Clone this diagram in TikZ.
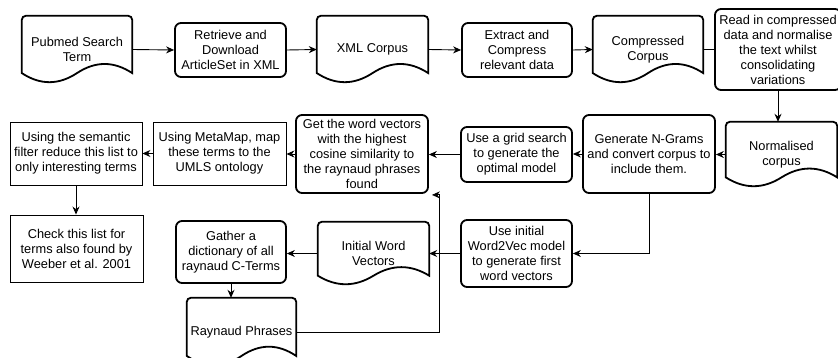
\documentclass[tikz,border=0pt]{standalone}
\usepackage{fontspec}
\setmainfont{Liberation Sans}
\usetikzlibrary{calc, arrows.meta}

\begin{document}
\begin{tikzpicture}[x=1pt, y=-1pt,
		every node/.style={font=\fontsize{12.8}{15}\selectfont, align=center, inner sep=0pt},
		process/.style 2 args={draw, line width=1.8pt, rounded corners=6pt, minimum width=#1, minimum height=#2},
		plainbox/.style 2 args={draw, line width=0.9pt, minimum width=#1, minimum height=#2},
		docnode/.style 2 args={minimum width=#1, minimum height=#2},
		docline/.style={line width=1.8pt},
		flow/.style={-{Stealth[length=8pt, width=7pt]}, line width=0.9pt}]

			\useasboundingbox (0,0) rectangle (838,358);
			\fill [white] (0,0) rectangle (838,358);

			% outline of a document: flat top with rounded corners, wavy bottom
			\newcommand{\drawDocument}[1]
			{
				\draw [docline] let \p1 = (#1.north west), \p2 = (#1.south east),
					\n1 = {\x2-\x1}, \n2 = {0.3*(\y1-\y2)} in
					(\x1, \y2+0.5*\n2) -- (\x1, \y1-4pt)
					arc [start angle=180, end angle=90, radius=4pt] -- (\x2-4pt, \y1)
					arc [start angle=90, end angle=0, radius=4pt] -- (\x2, \y2+0.5*\n2)
					.. controls ({\x2-\n1/6}, \y2+1.1*\n2) and ({\x1+2*\n1/3}, \y2+1.1*\n2) .. ({\x1+\n1/2}, \y2+0.5*\n2)
					.. controls ({\x1+\n1/3}, \y2-0.1*\n2) and ({\x1+\n1/6}, \y2-0.1*\n2) .. cycle
			}

			% top row
			\node [docnode={110}{67}] (pubmed) at (77,49.5) {Pubmed Search\\Term};
			\node [process={111}{54}] (retrieve) at (230.5,50) {Retrieve and\\Download\\ArticleSet in XML};
			\node [docnode={111}{67}] (xmlcorpus) at (372.5,49.5) {XML Corpus};
			\node [process={110}{54}] (extract) at (517,50) {Extract and\\Compress\\relevant data};
			\node [docnode={110}{67}] (compressed) at (648,49.5) {Compressed\\Corpus};
			\node [process={126}{81}] (readin) at (778,49.5) {Read in compressed\\data and normalise\\the text whilst\\consolidating\\variations};

			% middle row
			\node [docnode={111}{65}] (normalised) at (781.5,154.5) {Normalised\\corpus};
			\node [process={132}{78}] (ngrams) at (649,154) {Generate N-Grams\\and convert corpus to\\include them.};
			\node [process={111}{55}] (gridsearch) at (516.5,154.5) {Use a grid search\\to generate the\\optimal model};
			\node [process={132}{78}] (wordvectors) at (362,154) {Get the word vectors\\with the highest\\cosine similarity to\\the raynaud phrases\\found};
			\node [plainbox={133}{63}] (metamap) at (219.5,153.5) {Using MetaMap, map\\these terms to the\\UMLS ontology};
			\node [plainbox={132}{63}] (semantic) at (76,153.5) {Using the semantic\\filter reduce this list to\\only interesting terms};

			% bottom rows
			\node [plainbox={133}{67}] (check) at (76.5,248.5) {Check this list for\\terms also found by\\Weeber et al. 2001};
			\node [process={111}{67}] (initial) at (516.5,253.5) {Use initial\\Word2Vec model\\to generate first\\word vectors};
			\node [docnode={111}{63}] (initialvec) at (373.5,253.5) {Initial Word\\Vectors};
			\node [process={110}{62}] (gather) at (231,252) {Gather a\\dictionary of all\\raynaud C-Terms};
			\node [docnode={109}{68}] (phrases) at (241.5,332) {Raynaud Phrases};

			\drawDocument{pubmed};
			\drawDocument{xmlcorpus};
			\drawDocument{compressed};
			\drawDocument{normalised};
			\drawDocument{initialvec};
			\drawDocument{phrases};

			\begin{scope}[flow]
				\draw (pubmed.east) -- (retrieve.west);
				\draw (retrieve.east) -- (xmlcorpus.west);
				\draw (xmlcorpus.east) -- (extract.west);
				\draw (extract.east) -- (compressed.west);
				\draw [-] (compressed.east) -- (readin.west);
				\draw (readin.south) -- (readin.south |- normalised.north);
				\draw (normalised.west) -- (normalised.west -| ngrams.east);
				\draw (ngrams.west) -- (ngrams.west -| gridsearch.east);
				\draw (gridsearch.west) -- (gridsearch.west -| wordvectors.east);
				\draw (wordvectors.west) -- (wordvectors.west -| metamap.east);
				\draw (metamap.west) -- (semantic.east);
				\draw (semantic.south) -- (semantic.south |- check.north);
				\draw (ngrams.south) |- (initial.east);
				\draw (initial.west) -- (initial.west -| initialvec.east);
				\draw (initialvec.west) -- (initialvec.west -| gather.east);
				\draw (gather.south) -- (gather.south |- phrases.north);
				\draw (phrases.east) -| ($(wordvectors.south east)+(11,1)$) -- ($(wordvectors.south east)+(3,1)$);
			\end{scope}
		\end{tikzpicture}
\end{document}
